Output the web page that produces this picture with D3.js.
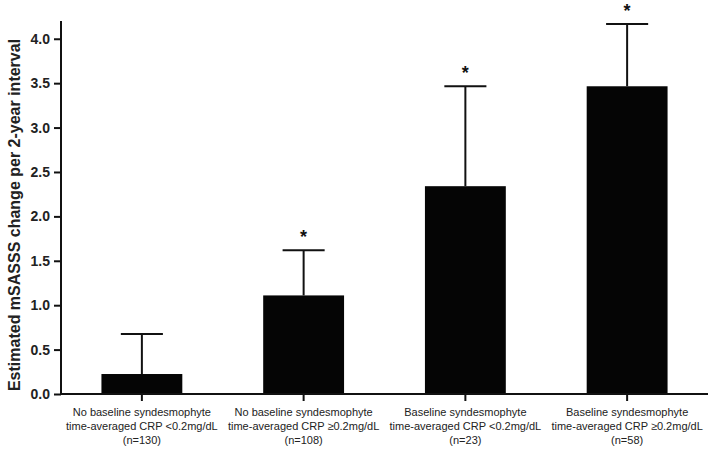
<!DOCTYPE html>
<meta charset="utf-8">
<style>
  body { margin: 0; background: #fff; }
  .tick text { font-family: "Liberation Sans", Arial, sans-serif; font-weight: bold; font-size: 14px; fill: #222; }
  .xlab { font-family: "Liberation Sans Narrow", "Arial Narrow", "Liberation Sans", sans-serif; font-stretch: condensed; font-size: 11px; fill: #222; }
</style>
<body>
<script src="https://cdn.jsdelivr.net/npm/d3@7"></script>
<script>
// data
var groups = ["g1", "g2", "g3", "g4"];
var labelLine1 = ["No baseline syndesmophyte", "No baseline syndesmophyte", "Baseline syndesmophyte", "Baseline syndesmophyte"];
var labelLine2 = ["time-averaged CRP <0.2mg/dL", "time-averaged CRP \u22650.2mg/dL", "time-averaged CRP <0.2mg/dL", "time-averaged CRP \u22650.2mg/dL"];
var labelLine3 = ["(n=130)", "(n=108)", "(n=23)", "(n=58)"];
var means = [0.225, 1.11, 2.34, 3.465];
var errUpper = [0.45, 0.51, 1.125, 0.70];
var significant = [false, true, true, true];
var yTicks = [0, 0.5, 1.0, 1.5, 2.0, 2.5, 3.0, 3.5, 4.0];

var W = 709, H = 452;

var svg = d3.select("body").append("svg")
    .attr("width", W)
    .attr("height", H);

// scales
var x = d3.scaleBand()
    .domain(groups)
    .range([61, 708])
    .paddingInner(0.5)
    .paddingOuter(0.25);
var y = d3.scaleLinear()
    .domain([0, 4.2])
    .range([394, 21]);

function cx(i) { return x(groups[i]) + x.bandwidth() / 2; }

// bars
svg.selectAll(".bar")
    .data(means)
  .enter().append("rect")
    .attr("class", "bar")
    .attr("x", function(d, i) { return x(groups[i]); })
    .attr("width", x.bandwidth())
    .attr("y", function(d) { return y(d); })
    .attr("height", function(d) { return y(0) - y(d); })
    .style("fill", "#050505");

// error bars (upper only)
var capW = x.bandwidth() * 0.52;
var eb = svg.selectAll(".err")
    .data(means)
  .enter().append("g")
    .attr("class", "err")
    .style("stroke", "#111")
    .style("stroke-width", 2);
eb.append("line")
    .attr("x1", function(d, i) { return cx(i); })
    .attr("x2", function(d, i) { return cx(i); })
    .attr("y1", function(d) { return y(d); })
    .attr("y2", function(d, i) { return y(d + errUpper[i]); });
eb.append("line")
    .attr("x1", function(d, i) { return cx(i) - capW / 2; })
    .attr("x2", function(d, i) { return cx(i) + capW / 2; })
    .attr("y1", function(d, i) { return y(d + errUpper[i]); })
    .attr("y2", function(d, i) { return y(d + errUpper[i]); });

// significance stars
svg.selectAll(".star")
    .data(means)
  .enter().append("text")
    .attr("class", "star")
    .attr("x", function(d, i) { return cx(i); })
    .attr("y", function(d, i) { return y(d + errUpper[i]) - 7; })
    .attr("text-anchor", "middle")
    .style("font-family", "Liberation Sans, Arial, sans-serif")
    .style("font-size", "18px")
    .style("font-weight", "bold")
    .style("fill", "#111")
    .text(function(d, i) { return significant[i] ? "*" : ""; });

// y axis
var yAxis = svg.append("g")
    .attr("transform", "translate(61,0)")
    .call(d3.axisLeft(y).tickValues(yTicks).tickFormat(d3.format(".1f")).tickSize(7).tickPadding(4));
yAxis.select(".domain").attr("d", "M0," + y(4.2) + "V" + y(0)).style("stroke-width", 2).style("stroke", "#111");
yAxis.selectAll(".tick line").style("stroke-width", 2).style("stroke", "#111");

// x axis
var xAxis = svg.append("g")
    .attr("transform", "translate(0," + y(0) + ")")
    .call(d3.axisBottom(x).tickSize(7).tickFormat(""));
xAxis.select(".domain").attr("d", "M61,0H708").style("stroke-width", 2).style("stroke", "#111");
xAxis.selectAll(".tick line").style("stroke-width", 2).style("stroke", "#111");

// x labels, three lines each
var xl = svg.selectAll(".xlab")
    .data(groups)
  .enter().append("text")
    .attr("class", "xlab")
    .attr("text-anchor", "middle");
xl.append("tspan")
    .attr("x", function(d, i) { return cx(i); })
    .attr("y", 416)
    .text(function(d, i) { return labelLine1[i]; });
xl.append("tspan")
    .attr("x", function(d, i) { return cx(i); })
    .attr("y", 430)
    .text(function(d, i) { return labelLine2[i]; });
xl.append("tspan")
    .attr("x", function(d, i) { return cx(i); })
    .attr("y", 444)
    .text(function(d, i) { return labelLine3[i]; });

// y axis title
svg.append("text")
    .attr("transform", "translate(20,215) rotate(-90)")
    .attr("text-anchor", "middle")
    .style("font-family", "Liberation Sans, Arial, sans-serif")
    .style("font-weight", "bold")
    .style("font-size", "16px")
    .style("fill", "#222")
    .text("Estimated mSASSS change per 2-year interval");
</script>
</body>
